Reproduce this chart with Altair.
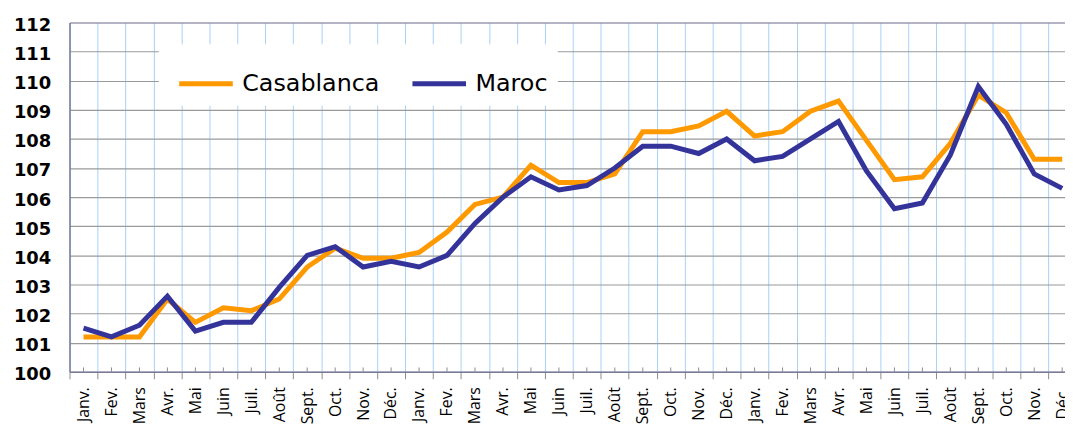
import json
import altair as alt
import pandas as pd

months = ["Janv.", "Fev.", "Mars", "Avr.", "Mai", "Juin", "Juil.", "Août", "Sept.", "Oct.", "Nov.", "Déc.",
          "Janv.", "Fev.", "Mars", "Avr.", "Mai", "Juin", "Juil.", "Août", "Sept.", "Oct.", "Nov.", "Déc.",
          "Janv.", "Fev.", "Mars", "Avr.", "Mai", "Juin", "Juil.", "Août", "Sept.", "Oct.", "Nov.", "Déc."]

casablanca = [101.2, 101.2, 101.2, 102.5, 101.7, 102.2, 102.1, 102.5, 103.6, 104.25, 103.9, 103.9,
              104.1, 104.8, 105.75, 106.0, 107.1, 106.5, 106.5, 106.8, 108.25, 108.25, 108.45, 108.95,
              108.1, 108.25, 108.95, 109.3, 107.95, 106.6, 106.7, 107.85, 109.5, 108.9, 107.3, 107.3]

maroc = [101.5, 101.2, 101.6, 102.6, 101.4, 101.7, 101.7, 102.9, 104.0, 104.3, 103.6, 103.8,
         103.6, 104.0, 105.1, 106.0, 106.7, 106.25, 106.4, 107.0, 107.75, 107.75, 107.5, 108.0,
         107.25, 107.4, 108.0, 108.6, 106.9, 105.6, 105.8, 107.45, 109.8, 108.5, 106.8, 106.3]

series_names = ["Casablanca", "Maroc"]
series_colors = ["#FF9900", "#333399"]
y_ticks = list(range(100, 113))
x_bounds = list(range(len(months)))

rows = []
for i in range(len(months)):
    rows.append({"idx": i, "serie": "Casablanca", "value": casablanca[i]})
    rows.append({"idx": i, "serie": "Maroc", "value": maroc[i]})
df = pd.DataFrame(rows)
df_idx = pd.DataFrame({"idx": x_bounds})

label_expr = json.dumps(months, ensure_ascii=False) + "[datum.value]"

# visible part of the 36 month bands (the original picture is cropped on the right)
x_scale = alt.Scale(domain=[0, 35.6], nice=False, zero=False)
y_scale = alt.Scale(domain=[100, 112], nice=False, zero=False)

x_axis = alt.Axis(
    title=None,
    values=x_bounds,
    labelExpr=label_expr,
    labelAngle=270,
    labelAlign="right",
    labelBaseline="middle",
    labelOffset=14,
    labelPadding=8,
    labelFont="Open Sans",
    labelFontSize=16,
    labelColor="#000000",
    labelFlush=False,
    labelOverlap=False,
    tickSize=7,
    tickColor="#8c8c8c",
    domainColor="#7a7a9a",
    domainWidth=1.5,
    grid=True,
    gridColor="#a9d1f7",
    gridWidth=1,
)
y_axis = alt.Axis(
    title=None,
    values=y_ticks,
    labelFont="DejaVu Sans",
    labelFontWeight="bold",
    labelFontSize=18,
    labelColor="#000000",
    labelPadding=19,
    labelOffset=3,
    labelFlush=False,
    ticks=False,
    domainColor="#7a7a9a",
    domainWidth=1.5,
    grid=True,
    gridColor={"condition": {"test": "datum.value === 112", "value": "#7a7a9a"}, "value": "#9a9a9a"},
    gridWidth=1.2,
)

minor = alt.Chart(df_idx).transform_calculate(xc="datum.idx + 0.5").mark_rule(
    color="#8c8c8c", strokeWidth=1
).encode(
    x=alt.X("xc:Q", scale=x_scale, axis=x_axis),
    y=alt.datum(100, scale=y_scale, axis=y_axis),
    y2=alt.datum(100.15),
)

lines = alt.Chart(df).transform_calculate(xc="datum.idx + 0.5").mark_line(strokeWidth=5).encode(
    x=alt.X("xc:Q", scale=x_scale, axis=x_axis),
    y=alt.Y("value:Q", scale=y_scale, axis=y_axis),
    color=alt.Color(
        "serie:N",
        scale=alt.Scale(domain=series_names, range=series_colors),
        legend=alt.Legend(
            title=None,
            orient="none",
            legendX=90,
            legendY=22,
            direction="horizontal",
            columns=2,
            symbolType="stroke",
            symbolSize=2916,
            symbolStrokeWidth=5,
            symbolOffset=8,
            labelFont="DejaVu Sans",
            labelFontSize=24,
            labelColor="#000000",
            labelOffset=7,
            columnPadding=22,
            padding=10,
            fillColor="#ffffff",
        ),
    ),
    order=alt.Order("serie:N"),
)

chart = alt.layer(minor, lines).properties(
    width=1003,
    height=352,
    autosize=alt.AutoSizeParams(type="none"),
    padding={"left": 62, "top": 13, "right": 0, "bottom": 54},
).configure_view(stroke=None).configure(background="#ffffff")

chart.save("out.html", embed_options={"renderer": "svg", "actions": False})
